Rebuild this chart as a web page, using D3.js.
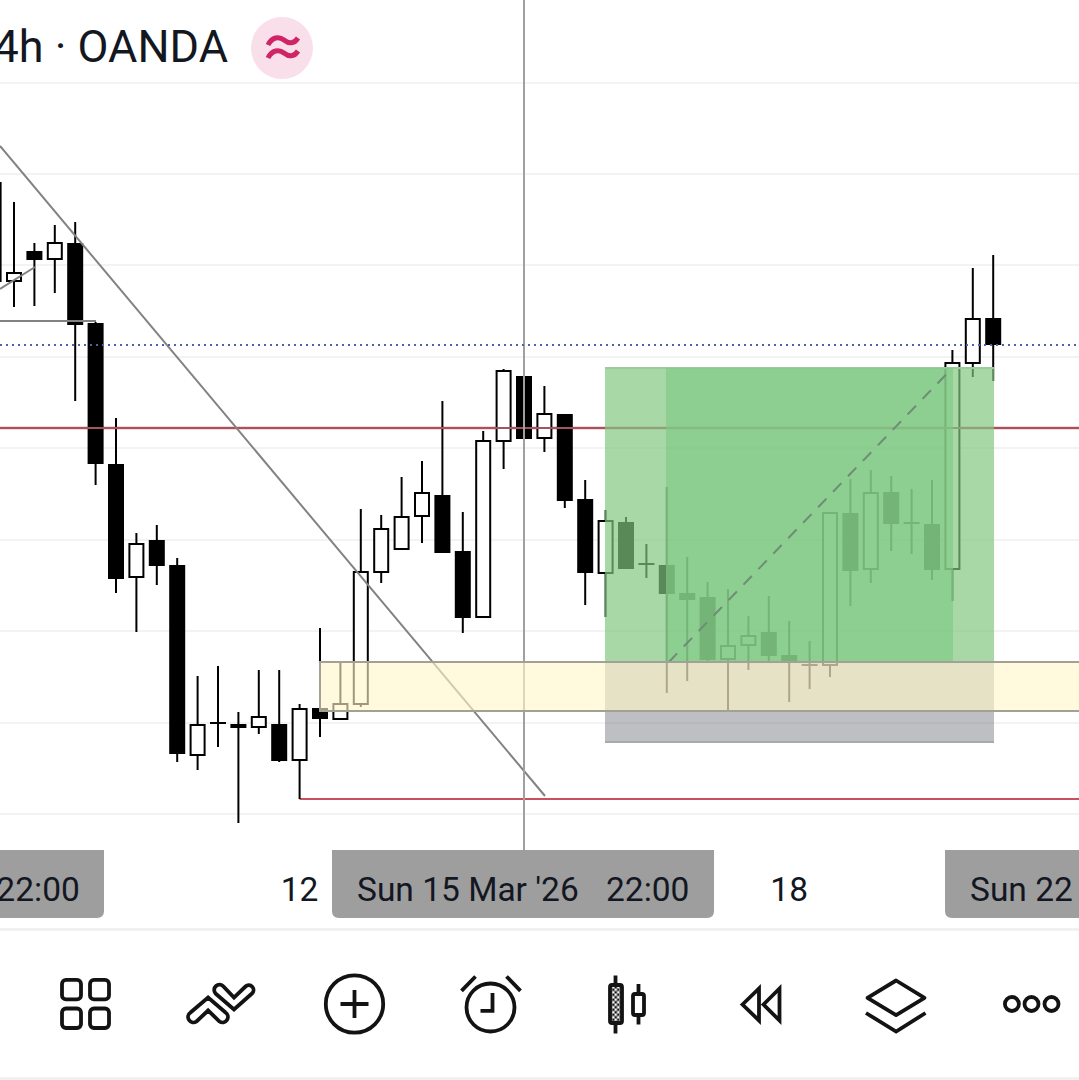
<!DOCTYPE html>
<html>
<head>
<meta charset="utf-8">
<script src="https://d3js.org/d3.v7.min.js"></script>
<style>
html,body{margin:0;padding:0;background:#fff;overflow:hidden}
svg{display:block}
text{font-family:Roboto,sans-serif;fill:#131722}
</style>
</head>
<body>
<svg id="c" width="1079" height="1080"></svg>
<script>
// OHLC values. The price axis is not visible in the crop, so units are arbitrary.
const candleIndex = d3.range(-1, 49);
const opens  = [569,569,599,591,607,527,386,273,310,285,95,127,126,123,126,90,142,131,146,278,301,334,355,299,233,409,474,412,436,351,277,328,286,285,257,253,191,205,218,195,185,185,337,281,358,327,326,281,487,532];
const highs  = [667,648,607,625,628,528,432,317,325,292,174,184,138,180,180,146,222,188,341,335,373,389,449,338,419,481,474,464,436,370,340,333,306,363,293,268,261,234,254,229,209,337,371,380,374,361,370,500,582,595];
const lows   = [569,543,544,557,449,365,257,218,265,88,80,103,27,116,88,51,113,130,143,267,301,307,297,217,233,381,411,398,342,245,233,281,272,157,169,188,139,180,187,148,161,173,244,267,299,296,270,249,473,469];
const closes = [667,577,590,607,525,386,271,306,284,96,125,127,122,133,89,141,131,146,278,321,333,357,297,232,409,479,411,436,349,277,329,281,286,256,250,190,204,214,194,189,185,337,279,357,326,327,280,487,531,505];

const gridLevels = [36,127,219,310,402,493,585,676,767];
const redLevelUpper = 422, redLevelLower = 51, lastPrice = 505;
const zoneTop = 188, zoneBottom = 139, zoneStart = 15;
const targetTop = 482, entryLevel = 188, stopLevel = 108;
const positionStart = 28.97, positionEnd = 48.04, rangeStart = 31.96, rangeEnd = 46.03;
const trendA = [[-0.686,704],[26.03,54]];
const trendB = [[-0.686,561],[1.03,583]];
const flatLine = [[-0.686,529],[4.02,529]];
const projection = [[32.1,188],[46.0,482]];
const crosshairIndex = 25;
const tickLabels = [
  {i:1.18, t:"22:00"},
  {i:14,   t:"12"},
  {i:38,   t:"18"}
];
const headerText = "4h · OANDA";
const activeLabelA = "Sun 15 Mar '26", activeLabelB = "22:00", activeLabelC = "Sun 22";

const W = 1079, H = 1080;
const x = d3.scaleLinear().domain([-1,48]).range([-6.4,993.2]);
const y = d3.scaleLinear().domain([0,850]).range([850,0]);
const svg = d3.select("#c");

// checker pattern for the toolbar icon
const defs = svg.append("defs");
const pat = defs.append("pattern").attr("id","chk").attr("width",5).attr("height",5).attr("patternUnits","userSpaceOnUse");
pat.append("rect").attr("width",5).attr("height",5).attr("fill","#131313");
pat.append("rect").attr("x",0).attr("y",0).attr("width",2.5).attr("height",2.5).attr("fill","#fff");
pat.append("rect").attr("x",2.5).attr("y",2.5).attr("width",2.5).attr("height",2.5).attr("fill","#fff");

// grid
svg.append("g").selectAll("line").data(gridLevels).join("line")
  .attr("x1",0).attr("x2",W).attr("y1",d=>y(d)).attr("y2",d=>y(d))
  .attr("stroke","#f2f3f3").attr("stroke-width",2);

// red levels
svg.append("line").attr("x1",0).attr("x2",W).attr("y1",y(redLevelUpper)).attr("y2",y(redLevelUpper))
  .attr("stroke","#f7d5da").attr("stroke-width",4);
svg.append("line").attr("x1",x(14)).attr("x2",W).attr("y1",y(redLevelLower)).attr("y2",y(redLevelLower))
  .attr("stroke","#c9505f").attr("stroke-width",2);

// candles
const candles = candleIndex.map((i,k)=>({i,o:opens[k],h:highs[k],l:lows[k],c:closes[k]}));
const cg = svg.append("g");
cg.selectAll("line").data(candles).join("line")
  .attr("x1",d=>x(d.i)).attr("x2",d=>x(d.i)).attr("y1",d=>y(d.h)).attr("y2",d=>y(d.l))
  .attr("stroke","#000").attr("stroke-width",2);
cg.selectAll("rect.b").data(candles).join("rect").attr("class","b")
  .each(function(d){
    const up = d.c>=d.o;
    const top = y(Math.max(d.o,d.c)), bot = y(Math.min(d.o,d.c));
    const s = d3.select(this);
    if(d.o===d.c){
      s.attr("x",x(d.i)-8).attr("width",16).attr("y",top-1).attr("height",2).attr("fill","#000");
    } else if(up){
      s.attr("x",x(d.i)-7).attr("width",14).attr("y",top).attr("height",bot-top)
       .attr("fill","#fff").attr("stroke","#000").attr("stroke-width",2);
    } else {
      s.attr("x",x(d.i)-8).attr("width",16).attr("y",top).attr("height",bot-top).attr("fill","#000");
    }
  });

// upper red line core, over the candles
svg.append("line").attr("x1",0).attr("x2",W).attr("y1",y(redLevelUpper)).attr("y2",y(redLevelUpper))
  .attr("stroke","#a2545f").attr("stroke-width",2);

const lineGen = d3.line().x(d=>x(d[0])).y(d=>y(d[1]));
[trendA,trendB,flatLine].forEach(p=>{
  svg.append("path").attr("d",lineGen(p)).attr("fill","none").attr("stroke","#828282").attr("stroke-width",2);
});

// crosshair
svg.append("line").attr("x1",x(crosshairIndex)).attr("x2",x(crosshairIndex)).attr("y1",0).attr("y2",850)
  .attr("stroke","#a0a0a0").attr("stroke-width",2);

// position tool
const rr = (i0,i1,v0,v1,fill)=>svg.append("rect").attr("x",x(i0)).attr("width",x(i1)-x(i0))
  .attr("y",y(v0)).attr("height",y(v1)-y(v0)).attr("fill",fill);
rr(positionStart,positionEnd,targetTop,entryLevel,"rgba(130,198,128,0.69)");
rr(positionStart,positionEnd,entryLevel,stopLevel,"rgba(92,94,105,0.4)");
svg.append("line").attr("x1",x(positionStart)).attr("x2",x(positionEnd)).attr("y1",y(stopLevel)).attr("y2",y(stopLevel))
  .attr("stroke","#a9aab0").attr("stroke-width",2);
svg.append("line").attr("x1",x(positionStart)).attr("x2",x(positionEnd)).attr("y1",y(targetTop)).attr("y2",y(targetTop))
  .attr("stroke","#9cca9b").attr("stroke-width",2);
rr(rangeStart,rangeEnd,targetTop,entryLevel,"rgba(128,200,134,0.68)");
svg.append("path").attr("d",lineGen(projection)).attr("fill","none").attr("stroke","#6e8c76")
  .attr("stroke-width",2).attr("stroke-dasharray","12 9.5");

// yellow zone
svg.append("rect").attr("x",x(zoneStart)).attr("width",W-x(zoneStart)+4)
  .attr("y",y(zoneTop)).attr("height",y(zoneBottom)-y(zoneTop))
  .attr("fill","rgba(255,247,200,0.62)").attr("stroke","#a2a196").attr("stroke-width",2);

// last price dotted line
svg.append("line").attr("x1",0).attr("x2",W).attr("y1",y(lastPrice)).attr("y2",y(lastPrice))
  .attr("stroke","#4c65a6").attr("stroke-width",2).attr("stroke-dasharray","2 4");

// time axis
const boxPath = (x0,x1,y0,y1,r)=>`M${x0},${y0}H${x1}V${y1-r}Q${x1},${y1} ${x1-r},${y1}H${x0+r}Q${x0},${y1} ${x0},${y1-r}Z`;
[[-20,104],[332,714],[945,1100]].forEach(b=>{
  svg.append("path").attr("d",boxPath(b[0],b[1],850,918,7)).attr("fill","#9e9e9e");
});
const axisFont = 33.5;
const at = (tx,t,a)=>svg.append("text").attr("x",tx).attr("y",901).attr("font-size",axisFont).attr("text-anchor",a||"start").text(t);
tickLabels.forEach(d=>at(x(d.i),d.t,"middle"));
at(357,activeLabelA); at(606,activeLabelB); at(970,activeLabelC);

// separators
svg.append("rect").attr("x",0).attr("y",928).attr("width",W).attr("height",3).attr("fill","#f1f1f1");
svg.append("rect").attr("x",0).attr("y",1077).attr("width",W).attr("height",3).attr("fill","#f1f1f1");

// header
svg.append("text").attr("x",228).attr("y",62).attr("text-anchor","end").attr("font-size",45).text(headerText);
svg.append("circle").attr("cx",282).attr("cy",48).attr("r",31).attr("fill","#f9dfe9");
["M268,45C272,37 279,36 284,40C289,44 294,44 298,38","M268,58C272,50 279,49 284,53C289,57 294,57 298,51"].forEach(d=>{
  svg.append("path").attr("d",d).attr("fill","none").attr("stroke","#cf2566").attr("stroke-width",5);
});

// toolbar icons
const ic = svg.append("g").attr("fill","none").attr("stroke","#131313").attr("stroke-width",3.8).attr("transform","translate(-0.5,-1.5)");
[[62.5,981.4],[90.5,981.4],[62.5,1010],[90.5,1010]].forEach(p=>{
  ic.append("rect").attr("x",p[0]).attr("y",p[1]).attr("width",19).attr("height",19.5).attr("rx",4);
});
ic.append("path").attr("stroke-linejoin","miter")
  .attr("d","M191,1014L208.6,999L226,1014A4.6,4.6 0 0 1 220,1023L208.6,1012L197,1023A4.6,4.6 0 0 1 191,1014Z");
ic.append("path").attr("stroke-linejoin","miter")
  .attr("d","M216,995L234.5,1011L252.5,995A4.6,4.6 0 0 0 246,988L234.5,999L224,988A4.6,4.6 0 0 0 216,995Z");
ic.append("circle").attr("cx",355).attr("cy",1005.5).attr("r",28.7);
ic.append("path").attr("d","M341,1005.5H369M355,991.5V1019.5");
ic.append("circle").attr("cx",491).attr("cy",1009).attr("r",24);
ic.append("path").attr("d","M493,994.5V1012.4H481M462,992.4L476,978M507,978L521,992.4");
ic.append("path").attr("d","M616,977V1035M639,985.5V1026");
ic.append("rect").attr("x",610.5).attr("y",986.5).attr("width",12).attr("height",38).attr("rx",2).attr("fill","url(#chk)");
ic.append("rect").attr("x",633.5).attr("y",995.5).attr("width",11).attr("height",21).attr("rx",2).attr("fill","#fff");
ic.append("path").attr("d","M743,1006L759.5,990V1022ZM764,1006L780,990V1022Z");
ic.append("path").attr("stroke-linejoin","round").attr("d","M896.6,982L925,999.3L896.6,1016.6L868,999.3Z");
ic.append("path").attr("d","M866.5,1014.5L896.6,1033L926,1014.5");
[1012.4,1032,1052].forEach(cx=>ic.append("circle").attr("cx",cx).attr("cy",1005.5).attr("r",7));
</script>
</body>
</html>
